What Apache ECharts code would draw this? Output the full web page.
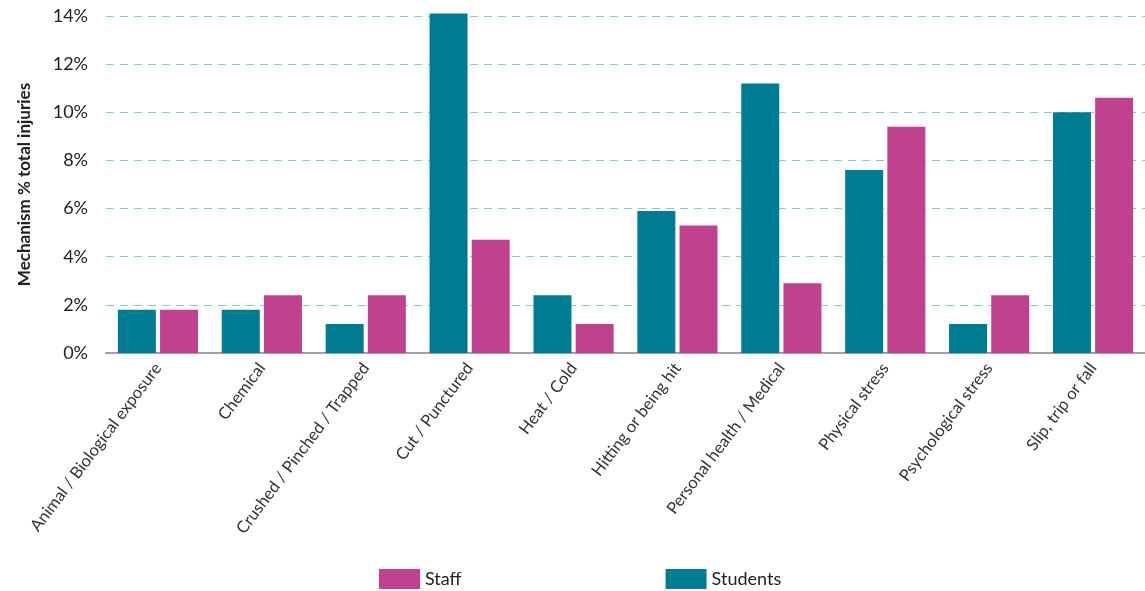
<!DOCTYPE html>
<html>
<head>
<meta charset="utf-8">
<script src="https://cdn.jsdelivr.net/npm/echarts@6/dist/echarts.min.js"></script>
<style>
  html, body { margin: 0; padding: 0; background: #fff; }
  #chart { width: 1145px; height: 591px; }
</style>
</head>
<body>
<div id="chart"></div>
<script>
var categories = ['Animal / Biological exposure', 'Chemical', 'Crushed / Pinched / Trapped', 'Cut / Punctured',
  'Heat / Cold', 'Hitting or being hit', 'Personal health / Medical', 'Physical stress',
  'Psychological stress', 'Slip, trip or fall']
var students = [1.8, 1.8, 1.2, 14.1, 2.4, 5.9, 11.2, 7.6, 1.2, 10.0]
var staff = [1.8, 2.4, 2.4, 4.7, 1.2, 5.3, 2.9, 9.4, 2.4, 10.6]
var yTicks = [0, 2, 4, 6, 8, 10, 12, 14]

var font = 'Lato, "Noto Sans", sans-serif'
var chart = echarts.init(document.getElementById('chart'))

var option = {
  animation: false,
  textStyle: { fontFamily: font },
  grid: { left: 106, right: -3, top: 16, bottom: 238 },
  legend: {
    data: ['Staff', 'Students'],
    left: 379,
    top: 569,
    padding: 0,
    itemWidth: 41,
    itemHeight: 20,
    itemGap: 204,
    icon: 'rect',
    textStyle: { fontSize: 18, color: '#222', fontFamily: font }
  },
  xAxis: {
    type: 'category',
    data: categories,
    axisTick: { show: false },
    axisLine: { lineStyle: { color: '#a0a0a0', width: 2 } },
    axisLabel: { rotate: 53, fontSize: 16.5, color: '#333', margin: 12, interval: 0 }
  },
  yAxis: {
    type: 'value',
    min: 0,
    max: yTicks[yTicks.length - 1],
    interval: 2,
    name: 'Mechanism % total injuries',
    nameLocation: 'middle',
    nameRotate: 90,
    nameGap: 73,
    nameTextStyle: { fontSize: 17, fontWeight: 'bold', color: '#222' },
    axisLine: { show: false },
    axisTick: { show: false },
    axisLabel: { fontSize: 18, color: '#222', margin: 18, formatter: '{value}%' },
    splitLine: { lineStyle: { color: '#7fcfc8', type: [8, 6], width: 1.2 } }
  },
  series: [
    {
      name: 'Students',
      type: 'bar',
      data: students,
      barWidth: 38,
      barGap: '11%',
      clip: false,
      itemStyle: { color: '#007c92' }
    },
    {
      name: 'Staff',
      type: 'bar',
      data: staff,
      barWidth: 38,
      clip: false,
      itemStyle: { color: '#c0428f' }
    }
  ]
}

chart.setOption(option)
</script>
</body>
</html>
